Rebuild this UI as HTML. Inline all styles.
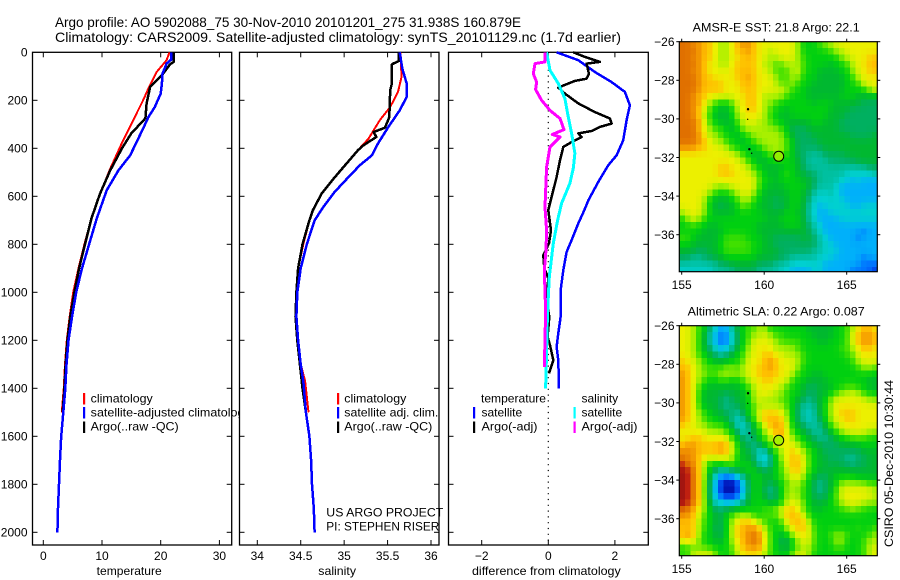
<!DOCTYPE html>
<html>
<head>
<meta charset="utf-8">
<title>Argo profile 5902088_75</title>
<style>
html,body{margin:0;padding:0;background:#fff;}
svg{display:block;}
text{font-family:"Liberation Sans",sans-serif;fill:#000;}
</style>
</head>
<body>
<svg id="figure" xmlns="http://www.w3.org/2000/svg" width="900" height="580" viewBox="0 0 900 580">
  <rect x="0" y="0" width="900" height="580" fill="#fff"/>
  <defs>
    <clipPath id="clip-legend-1"><rect x="33" y="50" width="206" height="496"/></clipPath>
    <clipPath id="clip-note"><rect x="240" y="50" width="203" height="496"/></clipPath>
    <clipPath id="clip-map-1"><rect x="679.3" y="41.7" width="198" height="230"/></clipPath>
    <clipPath id="clip-map-2"><rect x="679.3" y="325.7" width="198" height="230"/></clipPath>
  </defs>
  <text x="55" y="27" font-size="14" textLength="466" lengthAdjust="spacingAndGlyphs">Argo profile: AO 5902088_75 30-Nov-2010 20101201_275 31.938S 160.879E</text>
  <text x="55" y="42" font-size="14" textLength="566" lengthAdjust="spacingAndGlyphs">Climatology: CARS2009. Satellite-adjusted climatology: synTS_20101129.nc (1.7d earlier)</text>
  <text x="96.7" y="575" font-size="12" textLength="65" lengthAdjust="spacingAndGlyphs">temperature</text>
  <text x="318.3" y="575" font-size="12" textLength="37.7" lengthAdjust="spacingAndGlyphs">salinity</text>
  <text x="472" y="575" font-size="12" textLength="148.7" lengthAdjust="spacingAndGlyphs">difference from climatology</text>
  <text x="692.7" y="31.5" font-size="12" textLength="167" lengthAdjust="spacingAndGlyphs">AMSR-E SST: 21.8 Argo: 22.1</text>
  <text x="687.7" y="315.5" font-size="12" textLength="177" lengthAdjust="spacingAndGlyphs">Altimetric SLA: 0.22 Argo: 0.087</text>
  <text transform="translate(893,547) rotate(-90)" font-size="12" textLength="167" lengthAdjust="spacingAndGlyphs">CSIRO 05-Dec-2010 10:30:44</text>
  <g id="plots"></g>
  <g id="maps"></g>
  <g id="legends">
    <g clip-path="url(#clip-legend-1)">
      <rect x="83" y="393" width="2.2" height="11.5" fill="#f00"/>
      <text x="90.7" y="402.7" font-size="12" textLength="62" lengthAdjust="spacingAndGlyphs">climatology</text>
      <rect x="83" y="407" width="2.2" height="11.5" fill="#00f"/>
      <text x="90.7" y="416.5" font-size="12" textLength="160" lengthAdjust="spacingAndGlyphs">satellite-adjusted climatology</text>
      <rect x="83" y="421.5" width="2.2" height="11.5" fill="#000"/>
      <text x="90.7" y="430.5" font-size="12" textLength="88" lengthAdjust="spacingAndGlyphs">Argo(..raw -QC)</text>
    </g>
    <g>
      <rect x="337" y="393" width="2.2" height="11.5" fill="#f00"/>
      <text x="344.3" y="402.7" font-size="12" textLength="62" lengthAdjust="spacingAndGlyphs">climatology</text>
      <rect x="337" y="407" width="2.2" height="11.5" fill="#00f"/>
      <text x="344.3" y="416.5" font-size="12" textLength="94" lengthAdjust="spacingAndGlyphs">satellite adj. clim.</text>
      <rect x="337" y="421.5" width="2.2" height="11.5" fill="#000"/>
      <text x="344.3" y="430.5" font-size="12" textLength="88" lengthAdjust="spacingAndGlyphs">Argo(..raw -QC)</text>
    </g>
    <g clip-path="url(#clip-note)">
      <text x="326.3" y="516.7" font-size="12" textLength="117" lengthAdjust="spacingAndGlyphs">US ARGO PROJECT</text>
      <text x="326.3" y="530.7" font-size="12" textLength="113" lengthAdjust="spacingAndGlyphs">PI: STEPHEN RISER</text>
    </g>
    <g>
      <text x="481" y="402.7" font-size="12" textLength="65" lengthAdjust="spacingAndGlyphs">temperature</text>
      <rect x="473" y="407" width="2.2" height="11.5" fill="#00f"/>
      <text x="481.5" y="416.5" font-size="12">satellite</text>
      <rect x="473" y="421.5" width="2.2" height="11.5" fill="#000"/>
      <text x="481.5" y="430.5" font-size="12" textLength="56" lengthAdjust="spacingAndGlyphs">Argo(-adj)</text>
      <text x="581.5" y="402.7" font-size="12">salinity</text>
      <rect x="573.5" y="407" width="2.2" height="11.5" fill="#0ff"/>
      <text x="581.5" y="416.5" font-size="12">satellite</text>
      <rect x="573.5" y="421.5" width="2.2" height="11.5" fill="#f0f"/>
      <text x="581.5" y="430.5" font-size="12" textLength="56" lengthAdjust="spacingAndGlyphs">Argo(-adj)</text>
    </g>
  </g>
</svg>
<script>
// ---------- tick labels ----------
const depthTicks = [0, 200, 400, 600, 800, 1000, 1200, 1400, 1600, 1800, 2000];
const temperatureTicks = [0, 10, 20, 30];
const salinityTicks = [34, 34.5, 35, 35.5, 36];
const differenceTicks = [-2, 0, 2];
const lonTicks = [155, 160, 165];
const latTicks = [-26, -28, -30, -32, -34, -36];

// ---------- temperature profiles ----------
const tempClimDepth = [0, 33, 82, 151, 200, 367, 485, 589, 693, 800, 900, 1000, 1100, 1200, 1300, 1400, 1500];
const tempClimValues = [21.5, 21.0, 19.3, 17.9, 17.0, 13.6, 11.4, 9.7, 8.2, 7.0, 6.0, 5.1, 4.5, 4.0, 3.7, 3.5, 3.15];
const tempArgoDepth = [0, 40, 50, 96, 145, 213, 275, 338, 400, 492, 589, 693, 800, 900, 1000, 1100, 1200, 1300, 1400, 1500];
const tempArgoValues = [22.2, 22.2, 21.6, 20.2, 18.2, 17.6, 17.4, 15, 13.4, 11.4, 9.66, 8.2, 7.1, 6.1, 5.3, 4.6, 4.1, 3.8, 3.6, 3.3];
const tempSatDepth = [0, 30, 47, 89, 130, 172, 228, 270, 318, 429, 492, 575, 693, 800, 900, 1000, 1100, 1200, 1300, 1400, 1500, 1600, 1700, 1800, 1900, 2000];
const tempSatValues = [21.8, 21.8, 21, 20.3, 20.2, 20, 19, 17.9, 17, 14.8, 12.8, 10.8, 9.1, 7.8, 6.6, 5.6, 4.9, 4.3, 3.95, 3.75, 3.4, 3.05, 2.85, 2.67, 2.5, 2.4];

// ---------- salinity profiles ----------
const salClimDepth = [0, 103, 165, 228, 283, 360, 408, 471, 526, 589, 658, 700, 800, 900, 1000, 1100, 1200, 1300, 1370, 1500];
const salClimValues = [35.65, 35.66, 35.62, 35.53, 35.41, 35.28, 35.16, 35.01, 34.88, 34.74, 34.64, 34.6, 34.53, 34.47, 34.45, 34.44, 34.46, 34.5, 34.55, 34.59];
const salArgoDepth = [0, 36, 50, 130, 158, 270, 314, 332, 353, 388, 408, 471, 526, 589, 658, 700, 800, 900, 1000, 1100, 1200, 1300, 1400, 1500];
const salArgoValues = [35.63, 35.63, 35.55, 35.55, 35.53, 35.52, 35.47, 35.34, 35.37, 35.22, 35.16, 35.01, 34.88, 34.74, 34.64, 34.6, 34.52, 34.47, 34.45, 34.44, 34.46, 34.49, 34.52, 34.56];
const salSatDepth = [0, 68, 130, 186, 242, 311, 380, 429, 471, 520, 582, 645, 700, 800, 900, 1000, 1100, 1200, 1300, 1370, 1500, 1600, 1700, 1800, 1900, 2000];
const salSatValues = [35.64, 35.67, 35.72, 35.72, 35.64, 35.51, 35.39, 35.32, 35.18, 35.05, 34.89, 34.76, 34.66, 34.57, 34.5, 34.46, 34.45, 34.47, 34.5, 34.53, 34.56, 34.6, 34.62, 34.63, 34.65, 34.66];

// ---------- differences from climatology ----------
const diffTempSatDepth = [0, 33, 82, 124, 165, 221, 283, 367, 429, 471, 540, 617, 658, 713, 783, 832, 908, 992, 1103, 1171, 1228, 1283, 1400];
const diffTempSatValues = [0.25, 0.9, 1.4, 1.9, 2.3, 2.45, 2.35, 2.25, 2.05, 1.8, 1.5, 1.2, 1.08, 0.9, 0.7, 0.55, 0.45, 0.37, 0.37, 0.3, 0.25, 0.3, 0.32];
const diffTempArgoDepth = [0, 19, 40, 47, 89, 110, 119, 147, 172, 213, 249, 276, 297, 311, 328, 338, 353, 374, 394, 450, 520, 629, 658, 742, 796, 846, 900, 942, 1033, 1103, 1186, 1221, 1283, 1338];
const diffTempArgoValues = [0.75, 1.1, 1.55, 1.15, 1.22, 1.15, 0.8, 0.3, 0.5, 0.9, 1.4, 1.85, 1.9, 1.55, 1.3, 0.9, 1.0, 0.7, 0.45, 0.35, 0.25, 0.05, 0, 0.08, 0.02, -0.15, -0.12, 0, -0.05, 0.03, -0.02, 0.05, 0.15, 0.02];
const diffSalSatDepth = [0, 75, 130, 193, 270, 338, 421, 483, 546, 629, 700, 796, 936, 1019, 1117, 1242, 1400];
const diffSalSatValues = [-0.05, 0.05, 0.3, 0.5, 0.6, 0.7, 0.8, 0.75, 0.65, 0.4, 0.28, 0.15, 0.03, 0, -0.03, -0.05, -0.08];
const diffSalArgoDepth = [0, 40, 47, 89, 124, 155, 200, 242, 276, 322, 342, 353, 394, 478, 645, 742, 825, 908, 1075, 1200, 1311];
const diffSalArgoValues = [-0.1, -0.1, -0.4, -0.45, -0.35, -0.38, -0.2, 0.05, 0.35, 0.47, 0.12, 0.35, 0.05, -0.05, -0.1, -0.05, -0.07, -0.12, -0.08, -0.1, -0.12];

// ---------- map markers ----------
const argoLon = 160.879;
const argoLat = -31.938;
const trackLons = [159.02, 159.0, 159.1, 159.24];
const trackLats = [-29.5, -30.02, -31.57, -31.78];
const sstArgoLevel = 9.8;
const slaArgoLevel = 10;

// ---------- gridded fields (colour-level values, one row per 1/3 degree of latitude) ----------
const sstField = [
[14,14,13,13,12,12,11,10,10,11,12,13,13,12,11,11,11,11,11,11,11,10,8,8,8,9,10,10,11,11,11,11,11,11,11,11],
[14,14,14,13,12,12,11,10,10,11,12,12,13,12,11,11,10,11,11,11,11,10,8,8,8,8,8,9,10,10,11,11,11,11,11,11],
[14,14,13,13,12,12,11,10,10,11,11,12,12,12,11,11,10,10,11,11,11,10,9,8,8,8,8,8,8,10,10,11,11,11,12,12],
[14,14,14,13,12,11,11,10,10,11,12,12,12,12,11,10,10,9,9,10,10,10,9,8,8,8,8,7,8,8,9,10,11,11,12,12],
[14,14,13,13,12,11,11,11,11,11,12,12,12,12,11,11,10,9,9,9,10,11,9,8,8,7,7,7,7,8,8,10,11,11,12,12],
[14,14,14,13,12,12,11,11,11,11,12,12,13,12,11,11,11,10,9,9,10,10,8,8,8,7,7,7,7,7,8,9,10,11,11,11],
[14,14,14,13,12,12,12,12,11,11,11,12,12,12,11,11,11,10,9,9,10,9,8,8,7,7,7,7,7,7,8,8,9,11,11,11],
[14,14,14,13,12,12,12,12,11,11,11,12,12,12,11,11,11,11,11,10,9,8,8,7,7,7,7,7,7,7,8,8,8,8,10,11],
[14,14,13,12,12,11,11,11,11,11,11,11,12,12,11,10,10,10,10,9,8,8,8,7,7,7,7,7,7,8,8,8,7,7,7,7],
[14,14,13,13,11,10,9,8,8,9,11,11,12,12,11,10,10,9,8,8,8,8,8,8,7,8,8,8,7,7,7,7,7,6,6,6],
[14,14,13,12,11,9,8,7,7,8,10,11,12,12,11,10,9,8,8,7,8,8,8,8,8,8,8,7,7,7,7,6,6,6,6,6],
[14,14,13,12,10,9,7,7,7,8,10,11,11,11,11,10,9,8,7,7,8,8,8,8,8,8,8,7,7,7,6,6,6,6,6,6],
[14,14,14,13,11,9,8,7,7,7,9,10,11,11,10,10,9,8,8,7,7,7,7,7,8,8,7,7,7,6,6,6,6,6,6,6],
[14,14,14,12,11,10,9,9,8,7,8,10,10,10,10,10,10,10,9,8,6,6,6,7,7,7,7,7,7,6,6,6,6,6,6,6],
[14,14,14,13,11,10,10,9,8,8,7,8,9,10,10,10,10,10,10,8,7,6,6,6,7,7,7,7,7,7,7,6,6,6,6,7],
[14,14,14,13,12,11,10,10,9,8,8,7,8,9,10,10,10,10,10,9,8,6,6,6,6,7,7,7,7,7,7,7,7,7,7,7],
[13,13,13,12,12,11,11,11,10,9,8,8,7,8,8,10,10,10,10,9,8,6,6,6,6,6,7,7,7,7,7,7,7,7,7,7],
[11,11,11,11,11,11,11,11,11,11,10,9,8,7,7,8,9,10,10,8,8,6,6,5,5,5,6,6,6,6,7,7,7,7,7,7],
[11,11,11,11,11,11,11,11,11,11,11,10,9,8,7,7,8,8,8,8,8,7,6,5,5,5,5,6,6,6,6,6,7,7,7,7],
[11,11,11,11,11,11,11,12,12,11,11,11,10,9,8,7,7,7,7,8,8,7,6,5,5,5,5,5,5,5,5,5,5,5,6,6],
[11,11,11,11,11,11,11,12,12,12,11,11,11,10,9,8,7,7,8,9,8,7,7,6,6,5,5,5,5,5,4,4,4,4,4,5],
[11,11,11,11,11,11,11,11,11,11,11,11,11,11,9,8,8,7,8,8,8,8,7,7,6,5,5,5,5,4,4,3,4,3,3,3],
[11,11,11,11,11,11,10,10,10,11,11,11,11,11,9,8,7,7,7,8,8,8,8,7,6,5,5,5,4,3,3,3,3,3,3,3],
[11,11,11,11,11,10,9,8,8,9,10,11,11,10,8,7,7,7,7,7,8,8,7,6,5,4,4,5,4,3,3,3,3,3,3,3],
[11,11,11,11,10,8,7,7,7,8,9,10,10,9,8,7,7,6,7,7,8,8,7,6,4,4,4,4,4,4,3,3,3,3,3,3],
[11,11,11,11,10,8,7,6,7,7,8,10,9,8,7,7,7,6,6,7,8,8,7,5,4,3,4,4,4,4,4,3,3,4,4,4],
[10,11,11,11,10,8,7,7,7,7,8,8,8,8,8,7,7,7,7,8,8,7,7,5,4,3,3,4,4,4,4,4,4,4,4,4],
[8,10,11,10,9,8,8,8,8,8,8,8,8,8,8,8,7,7,8,8,8,8,7,5,4,3,3,3,3,4,4,4,4,4,4,4],
[8,8,9,8,8,7,7,8,8,8,8,8,8,8,7,7,7,7,7,8,8,8,7,6,5,4,3,3,3,3,3,3,3,3,3,3],
[8,8,8,8,7,7,7,7,8,8,8,8,8,8,7,7,7,7,7,7,7,7,7,6,5,4,3,3,3,3,3,3,3,2,3,3],
[9,9,8,7,7,7,7,8,9,9,9,9,8,8,8,7,7,6,6,6,6,6,7,7,6,5,4,3,3,3,3,3,2,3,3,3],
[8,8,7,7,7,7,7,8,9,9,9,9,9,8,8,7,7,6,6,6,6,6,6,6,6,5,4,4,3,3,3,3,3,3,3,3],
[7,7,7,6,6,7,7,8,9,9,9,9,9,8,8,7,7,7,6,6,6,6,6,6,5,5,4,4,4,3,3,3,3,3,3,3],
[6,6,5,5,6,6,7,7,8,8,8,8,8,8,7,7,7,7,6,6,5,5,5,5,5,4,4,4,3,3,3,3,3,2,3,3],
[5,5,5,5,5,5,5,6,6,7,7,7,7,7,6,6,6,5,5,5,4,4,4,4,4,4,3,3,3,3,3,3,3,2,2,2],
[4,4,4,4,4,4,5,5,5,5,6,6,6,6,5,5,5,5,4,4,3,3,3,3,4,4,3,3,3,3,3,2,2,2,2,1]
];
const slaField = [
[11,11,10,9,8,6,4,3,3,5,7,8,9,9,10,10,8,8,8,8,8,8,8,7,7,7,7,7,8,8,9,10,11,12,12,11],
[11,11,10,9,7,5,3,2,2,4,6,8,9,10,10,11,10,9,9,8,8,8,8,8,7,7,7,7,8,8,9,11,12,13,13,12],
[11,11,10,9,7,5,3,2,2,4,6,8,9,11,11,11,11,10,9,9,9,9,8,8,8,7,7,8,8,8,9,11,12,13,13,12],
[11,11,10,9,7,6,4,3,3,5,7,8,10,11,11,11,11,10,10,10,10,9,8,8,8,8,8,8,8,9,9,10,11,12,12,11],
[11,11,10,9,8,7,6,5,6,7,8,9,10,11,11,12,12,11,11,10,10,10,9,8,8,8,8,8,8,8,9,9,11,11,11,11],
[12,11,11,10,9,8,7,7,7,8,8,9,11,11,11,12,13,12,11,11,11,10,9,8,8,8,8,8,8,8,8,9,10,11,11,11],
[12,12,11,10,9,9,9,9,10,10,9,10,11,11,12,12,13,12,11,11,11,10,8,8,8,8,8,8,8,8,8,8,9,10,10,9],
[13,12,11,10,10,9,9,10,10,10,10,10,11,11,12,12,12,12,11,11,10,9,8,8,7,7,8,8,8,8,8,8,8,8,8,8],
[13,12,11,10,9,8,8,9,9,8,8,9,10,11,11,12,12,11,11,11,9,8,8,7,7,7,7,8,8,8,8,8,8,8,7,7],
[13,12,11,9,8,7,7,7,7,7,7,8,9,10,11,11,11,11,10,9,8,8,7,6,6,7,7,7,8,8,9,9,8,8,7,7],
[13,12,11,9,7,7,7,7,6,7,7,7,8,10,11,11,11,10,10,9,8,8,7,6,6,7,7,8,9,10,10,11,10,9,8,8],
[13,12,11,9,7,7,7,6,5,6,7,7,8,10,11,10,10,10,9,9,8,7,6,5,6,7,8,10,11,11,11,11,11,11,10,10],
[13,12,11,9,7,7,7,6,5,6,6,7,8,9,10,10,10,10,10,9,8,6,5,5,5,7,8,10,11,11,11,11,11,11,11,11],
[13,12,11,10,9,8,7,7,6,6,5,6,8,9,11,12,12,12,11,10,8,6,5,4,5,7,8,10,11,12,12,12,11,11,11,11],
[13,12,11,10,9,8,8,7,7,5,4,5,7,9,11,12,12,12,12,10,8,6,5,4,5,6,8,10,11,11,12,12,11,11,11,11],
[12,11,11,10,10,9,9,9,8,7,4,4,5,7,9,11,12,13,12,11,8,7,6,5,5,5,7,9,10,11,11,11,11,11,11,11],
[11,11,11,11,11,10,10,10,9,8,6,4,5,7,8,10,11,12,13,11,9,8,7,6,5,5,6,7,9,10,11,11,11,11,10,10],
[11,11,12,12,11,11,11,11,11,9,8,6,5,6,8,9,10,11,12,11,10,9,8,7,6,5,5,6,7,8,8,9,9,9,8,8],
[12,13,13,12,12,12,12,13,12,11,8,7,6,5,6,8,9,10,11,11,11,10,9,8,7,7,6,6,6,7,7,7,7,8,8,8],
[13,13,13,12,12,12,12,13,12,11,9,7,7,6,4,4,7,9,10,11,12,11,10,9,8,7,6,6,6,6,6,6,6,7,7,7],
[14,13,13,12,11,11,11,11,11,10,8,7,7,6,4,3,5,8,10,11,12,12,11,9,8,7,7,6,6,6,5,5,6,6,7,7],
[15,14,13,12,10,8,8,8,9,10,8,8,8,7,5,4,5,8,9,11,12,12,11,9,8,7,7,6,7,6,6,5,6,6,7,7],
[16,15,14,12,10,8,6,5,5,6,7,8,8,8,7,6,7,8,9,10,12,12,11,9,8,7,7,7,7,7,7,7,7,7,7,7],
[16,15,14,12,10,7,4,2,2,2,3,5,7,8,8,7,7,8,9,10,11,11,10,8,7,6,6,7,8,8,8,8,7,7,7,7],
[16,15,14,12,10,6,3,1,0,0,1,3,6,8,8,7,6,7,8,9,10,10,9,8,6,5,6,7,8,10,10,10,10,10,9,9],
[16,15,14,12,10,6,3,1,0,0,1,3,6,8,8,6,5,6,8,10,10,10,9,8,6,5,6,7,9,11,11,11,11,11,11,10],
[16,15,14,12,10,6,3,2,1,1,2,3,7,8,8,7,5,6,8,10,10,10,8,8,6,6,6,8,9,11,11,11,11,11,11,10],
[16,15,14,12,10,7,4,4,3,3,4,5,7,8,8,8,7,7,8,10,11,11,10,8,7,7,7,8,9,10,11,11,11,10,10,10],
[14,14,12,11,10,8,6,6,7,7,8,8,8,8,8,9,9,10,11,12,12,11,9,8,7,7,8,8,8,9,9,10,9,9,8,8],
[13,13,12,11,9,8,7,6,8,9,10,10,10,9,8,9,9,9,10,12,12,12,11,9,8,8,8,8,8,8,8,8,8,8,8,8],
[12,12,12,10,9,8,7,6,8,10,11,12,12,11,10,9,8,8,9,11,12,12,12,10,8,8,8,8,8,8,8,8,8,8,8,8],
[12,12,12,10,9,8,6,6,8,10,12,12,13,13,12,10,9,8,8,10,11,12,12,11,9,8,8,8,8,8,8,8,9,8,8,9],
[12,13,12,10,8,8,7,6,8,10,12,12,13,14,13,11,9,8,7,8,10,11,11,11,9,8,8,9,10,10,9,8,8,8,9,10],
[11,12,11,10,8,8,7,7,8,10,11,12,13,14,13,11,9,8,6,6,8,10,11,11,9,8,8,8,10,10,8,8,8,9,10,10],
[8,8,9,9,9,9,8,8,8,9,11,12,13,13,13,11,9,8,7,6,8,9,10,10,9,8,8,8,9,9,8,8,8,9,10,11],
[9,9,11,11,11,11,10,8,8,9,10,11,11,11,11,10,9,8,8,8,10,11,11,10,8,8,8,8,8,8,8,8,8,9,10,11]
];

// ---------- colour scale stops (levels 0..16) ----------
const colourStops = [
  [0,0,144],[0,48,224],[0,112,255],[0,176,250],[0,208,208],[0,192,160],[0,176,96],[0,184,48],
  [0,208,16],[64,224,0],[168,240,0],[236,240,0],[255,192,0],[240,144,0],[224,112,0],[192,32,16],[152,16,16]
];
function levelColour(level) {
  const v = Math.max(0, Math.min(colourStops.length - 1, level));
  const i = Math.min(colourStops.length - 2, Math.floor(v));
  const f = v - i;
  const c = colourStops[i].map((s, k) => Math.round(s + (colourStops[i + 1][k] - s) * f));
  return 'rgb(' + c.join(',') + ')';
}
// Softens the hand-read levels at draw time so that colours blend between neighbouring cells.
function softenedLevel(field, r, c) {
  let sum = 0, weight = 0;
  for (let dr = -1; dr <= 1; dr++) {
    for (let dc = -1; dc <= 1; dc++) {
      const row = field[r + dr];
      if (!row || row[c + dc] === undefined) continue;
      const w = dr === 0 && dc === 0 ? 6 : (dr === 0 || dc === 0 ? 2 : 1);
      sum += row[c + dc] * w;
      weight += w;
    }
  }
  return sum / weight;
}

const SVGNS = 'http://www.w3.org/2000/svg';
function make(tag, parent, attrs) {
  const el = document.createElementNS(SVGNS, tag);
  for (const k in attrs) el.setAttribute(k, attrs[k]);
  parent.appendChild(el);
  return el;
}

// ---------- axis functions ----------
const yDepth = d => 52.3 + 0.24 * d;
const xTemperature = v => 43.3 + 5.87 * v;
const xSalinity = v => 257.3 + 86.85 * (v - 34);
const xDifference = v => 548.3 + 33.3 * v;

const plots = document.getElementById('plots');
const maps = document.getElementById('maps');

function drawProfile(group, depths, values, xFn, colour, width, name) {
  const pts = depths.map((d, i) => xFn(values[i]).toFixed(1) + ',' + yDepth(d).toFixed(1)).join(' ');
  const el = make('polyline', group, {points: pts, fill: 'none', stroke: colour, 'stroke-width': width, 'stroke-linejoin': 'round', 'shape-rendering': 'crispEdges'});
  
  
}

function drawPanel(name, left, right, xFn, xTicks, showDepthLabels) {
  const top = 52.3, bottom = 545;
  const g = make('g', plots, {});
  
  
  const frame = make('rect', g, {x: left, y: top, width: right - left, height: bottom - top, fill: 'none', stroke: '#000', 'stroke-width': 1.3});
  
  
  depthTicks.forEach(d => {
    const y = yDepth(d);
    if (d > 0) {
      make('line', g, {x1: left, x2: left + 5, y1: y, y2: y, stroke: '#000', 'stroke-width': 1});
      make('line', g, {x1: right - 5, x2: right, y1: y, y2: y, stroke: '#000', 'stroke-width': 1});
    }
    if (showDepthLabels) {
      const t = make('text', g, {x: 27.5, y: y + 4.3, 'font-size': 12, 'text-anchor': 'end'});
      
      
      t.textContent = d;
    }
  });
  xTicks.forEach(v => {
    const x = xFn(v);
    make('line', g, {x1: x, x2: x, y1: top, y2: top + 5, stroke: '#000', 'stroke-width': 1});
    make('line', g, {x1: x, x2: x, y1: bottom - 5, y2: bottom, stroke: '#000', 'stroke-width': 1});
    const t = make('text', g, {x: x, y: 560, 'font-size': 12, 'text-anchor': 'middle'});
    
    
    t.textContent = String(v).replace('-', '\u2212');
  });
  return g;
}

const panelT = drawPanel('temperature', 32.5, 231.7, xTemperature, temperatureTicks, true);
drawProfile(panelT, tempClimDepth, tempClimValues, xTemperature, '#f00', 2, 'temperature-climatology-line');
drawProfile(panelT, tempArgoDepth, tempArgoValues, xTemperature, '#000', 2.5, 'temperature-argo-line');
drawProfile(panelT, tempSatDepth, tempSatValues, xTemperature, '#00f', 2.5, 'temperature-satellite-line');

const panelS = drawPanel('salinity', 239.5, 439, xSalinity, salinityTicks, false);
drawProfile(panelS, salClimDepth, salClimValues, xSalinity, '#f00', 2, 'salinity-climatology-line');
drawProfile(panelS, salArgoDepth, salArgoValues, xSalinity, '#000', 2.5, 'salinity-argo-line');
drawProfile(panelS, salSatDepth, salSatValues, xSalinity, '#00f', 2.5, 'salinity-satellite-line');

const panelD = drawPanel('difference', 448.5, 648.3, xDifference, differenceTicks, false);
const zero = make('line', panelD, {x1: xDifference(0), x2: xDifference(0), y1: 52.3, y2: 545, stroke: '#000', 'stroke-width': 1.2, 'stroke-dasharray': '1.2 4.6'});


drawProfile(panelD, diffTempSatDepth, diffTempSatValues, xDifference, '#00f', 2.5, 'difference-temperature-satellite-line');
drawProfile(panelD, diffTempArgoDepth, diffTempArgoValues, xDifference, '#000', 2.5, 'difference-temperature-argo-line');
drawProfile(panelD, diffSalSatDepth, diffSalSatValues, xDifference, '#0ff', 3, 'difference-salinity-satellite-line');
drawProfile(panelD, diffSalArgoDepth, diffSalArgoValues, xDifference, '#f0f', 3, 'difference-salinity-argo-line');

// ---------- maps ----------
function drawMap(name, field, top, clipId, argoLevel) {
  const left = 679.3, right = 877.3, bottom = top + 230;
  const xLon = lon => 681.7 + 16.5 * (lon - 155);
  const yLat = lat => top + 19.3 * (-26 - lat);
  const g = make('g', maps, {});
  
  
  const cells = make('g', g, {'clip-path': 'url(#' + clipId + ')', 'shape-rendering': 'crispEdges'});
  
  
  field.forEach((row, r) => {
    row.forEach((level, c) => {
      const lon = 154.855 + c / 3;
      const lat = -26 - r / 3;
      const x0 = xLon(lon), x1 = xLon(lon + 1 / 3), y0 = yLat(lat), y1 = yLat(lat - 1 / 3);
      const cell = make('rect', cells, {x: x0.toFixed(2), y: y0.toFixed(2), width: (x1 - x0 + 0.4).toFixed(2), height: (y1 - y0 + 0.4).toFixed(2), fill: levelColour(softenedLevel(field, r, c))});
      
      
    });
  });
  const frame = make('rect', g, {x: left, y: top, width: right - left, height: bottom - top, fill: 'none', stroke: '#000', 'stroke-width': 1.2});
  
  
  lonTicks.forEach(lon => {
    const x = xLon(lon);
    make('line', g, {x1: x, x2: x, y1: top - 3, y2: top, stroke: '#000', 'stroke-width': 1});
    make('line', g, {x1: x, x2: x, y1: bottom, y2: bottom + 3, stroke: '#000', 'stroke-width': 1});
    const t = make('text', g, {x: x, y: bottom + 17.5, 'font-size': 12, 'text-anchor': 'middle'});
    
    
    t.textContent = lon;
  });
  latTicks.forEach(lat => {
    const y = yLat(lat);
    make('line', g, {x1: left - 3, x2: left, y1: y, y2: y, stroke: '#000', 'stroke-width': 1});
    make('line', g, {x1: right, x2: right + 3, y1: y, y2: y, stroke: '#000', 'stroke-width': 1});
    const t = make('text', g, {x: 674.5, y: y + 4.3, 'font-size': 12, 'text-anchor': 'end'});
    
    
    t.textContent = String(lat).replace('-', '\u2212');
  });
  trackLons.forEach((lon, i) => {
    const dot = make('circle', g, {cx: xLon(lon), cy: yLat(trackLats[i]), r: i === 1 || i === 3 ? 0.7 : 1.2, fill: '#000'});
    
    
  });
  const argo = make('circle', g, {cx: xLon(argoLon), cy: yLat(argoLat), r: 5, fill: levelColour(argoLevel), stroke: '#000', 'stroke-width': 1});
  
  
}
drawMap('sst', sstField, 41.7, 'clip-map-1', sstArgoLevel);
drawMap('sla', slaField, 325.7, 'clip-map-2', slaArgoLevel);
</script>
</body>
</html>
